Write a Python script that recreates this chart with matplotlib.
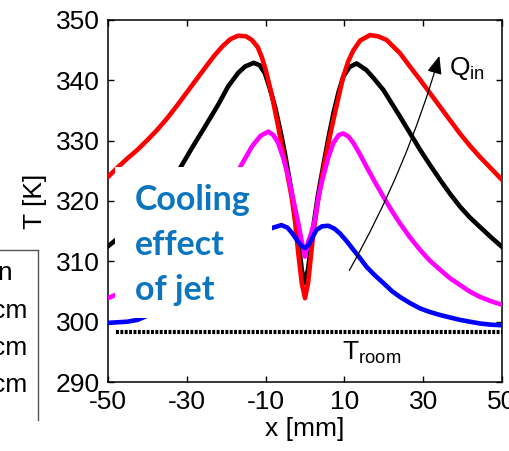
import matplotlib
matplotlib.use("Agg")
import matplotlib.pyplot as plt
from matplotlib.patches import Rectangle

plt.rcParams["font.family"] = ["Liberation Sans", "DejaVu Sans"]
plt.rcParams["mathtext.fontset"] = "custom"
plt.rcParams["mathtext.rm"] = "Liberation Sans"
plt.rcParams["axes.unicode_minus"] = False

# temperature profiles along x (mm) -> T (K)
x_red = [-50, -47.5, -45, -42.5, -40, -37.5, -35, -32.5, -30, -27.5, -25, -23, -21, -19, -17,
         -15, -13.5, -12, -11, -10, -8.5, -7, -6, -4.5, -3.4, -2.5, -1.7, -0.8, 0, 0.8, 2.1,
         3.3, 4.6, 6, 7.2, 8.5, 9.7, 11, 12.3, 14, 16.5, 18.5, 20.7, 24.1, 26.5, 29.2, 31.7,
         34.3, 36.8, 39.3, 41.8, 44.4, 47.2, 50]
t_red = [324.0, 325.6, 327.1, 328.5, 330.1, 331.8, 333.7, 335.8, 338.0, 340.2, 342.4, 344.1,
         345.6, 346.8, 347.4, 347.3, 346.7, 345.5, 343.9, 341.8, 337.8, 333.0, 329.6, 324.5,
         320.7, 316.5, 311.3, 306.3, 303.9, 306.5, 314.6, 320.0, 325.1, 329.8, 333.4, 337.2,
         340.6, 343.2, 345.0, 346.6, 347.5, 347.3, 346.7, 344.5, 342.4, 340.1, 337.9, 335.6,
         333.4, 331.2, 329.2, 327.3, 325.4, 323.5]

x_black = [-50, -47.5, -45, -42.5, -40, -37.5, -35, -32, -28.5, -25.4, -22, -19.5, -17, -15.2,
           -13, -11.5, -10.2, -9, -7.6, -6.3, -5.1, -3.8, -2.5, -1.6, -0.8, 0, 0.8, 2.1, 3.3,
           4.6, 5.9, 7.2, 8.5, 9.7, 11.3, 13.1, 15.6, 17.5, 19.9, 21.9, 24.1, 26.6, 29.2, 31.7,
           34.3, 36.8, 39.3, 41.8, 44.4, 47.2, 50]
t_black = [312.5, 313.8, 315.3, 317.1, 319.0, 320.9, 322.8, 325.1, 329.0, 332.3, 336.0, 339.0,
           341.2, 342.3, 342.9, 342.5, 341.2, 338.8, 335.6, 331.8, 327.9, 323.0, 318.0, 313.0,
           308.5, 306.4, 308.8, 315.7, 321.0, 325.7, 330.3, 334.5, 338.0, 340.6, 342.2, 342.8,
           341.7, 340.3, 338.4, 336.3, 334.0, 331.3, 328.5, 326.0, 323.5, 321.2, 319.1, 317.3,
           315.7, 314.0, 312.4]

x_mag = [-50, -47.5, -45, -42.5, -40, -37.5, -35, -32.5, -30, -27.5, -25, -22.5, -20, -18.5,
         -16.9, -13.5, -11.3, -9.3, -8, -6.8, -5.5, -4.2, -3, -1.7, -0.8, 0, 0.8, 1.5, 2.5, 3.5,
         4.6, 5.9, 7.2, 8.5, 9.7, 11, 12.3, 13.9, 15.6, 17.7, 19.9, 22, 24.1, 26.6, 29.2, 31.7,
         34.3, 36.8, 39.3, 41.8, 44.4, 47.2, 50]
t_mag = [303.9, 304.6, 305.5, 306.5, 307.8, 309.3, 311.0, 312.8, 314.8, 316.8, 318.8, 320.8,
         322.8, 324.0, 325.1, 329.0, 330.8, 331.5, 330.9, 329.6, 327.1, 324.0, 320.3, 316.3,
         313.2, 310.8, 313.2, 314.5, 316.9, 321.0, 324.0, 327.2, 329.6, 330.9, 331.2, 330.7,
         329.6, 327.8, 325.7, 323.2, 320.7, 318.4, 316.3, 314.0, 311.9, 310.1, 308.6, 307.2,
         306.1, 305.0, 304.1, 303.4, 302.8]

x_blue = [-50, -45, -42.5, -40, -35, -30, -25, -20, -16, -12, -8.5, -6, -4.5, -3.4, -2, -1, 0,
          1, 2, 2.9, 4.3, 5.9, 7.5, 8.9, 10.5, 12.3, 14, 15.6, 17.7, 19.9, 22, 24.1, 26.6, 29.2,
          31.7, 34.3, 36.8, 39.3, 41.8, 44.4, 47.2, 50]
t_blue = [299.8, 300.0, 300.3, 301.0, 302.0, 303.4, 305.4, 308.3, 310.9, 313.6, 315.5, 316.0,
          315.6, 314.8, 313.5, 312.6, 312.2, 312.8, 314.1, 315.2, 315.8, 315.9, 315.4, 314.6,
          313.4, 311.9, 310.5, 309.1, 307.7, 306.4, 305.1, 304.1, 303.1, 302.2, 301.6, 301.1,
          300.7, 300.3, 300.0, 299.7, 299.5, 299.4]

t_room = 298.3
x_ticks = [-50, -30, -10, 10, 30, 50]
y_ticks = [290, 300, 310, 320, 330, 340, 350]
legend_lines = ["Separation", "2 cm", "4 cm", "6 cm"]

fig = plt.figure(figsize=(5.1, 4.51), dpi=100)
ax = fig.add_axes([108 / 510, 69 / 451, 394 / 510, 362 / 451])

lw = 3.3
ax.plot(x_black, t_black, color="black", lw=lw, zorder=2)
ax.plot(x_red, t_red, color="#ff0000", lw=lw, zorder=3)
ax.plot(x_mag, t_mag, color="#ff00ff", lw=lw, zorder=4)
ax.plot(x_blue, t_blue, color="#0000ff", lw=lw, zorder=5)
ax.plot([-48, 50], [t_room, t_room], color="black", lw=3.0, ls=(0, (0.7, 0.35)), zorder=5)

# white label box hiding the curves on the left
ax.add_patch(Rectangle((-48.3, 300.6), 39.9, 25.0, facecolor="white", edgecolor="none", zorder=6))
blue_txt = "#0b76bf"
for i, s in enumerate(["Cooling", "effect", "of jet"]):
    ax.text(-43.1, 320.2 - 7.5 * i, s, color=blue_txt, fontsize=24.5, fontweight="bold",
            family=["Lato", "DejaVu Sans"], ha="left", va="center", zorder=7)

ax.annotate("", xy=(34.3, 344.5), xytext=(10.9, 308.1),
            arrowprops=dict(arrowstyle="-|>,head_length=1.1,head_width=0.45", color="black",
                            lw=0.9, connectionstyle="arc3,rad=0.06"), zorder=8)
ax.text(36.6, 342.0, r"$\mathregular{Q_{in}}$", fontsize=19, ha="left", va="center")
ax.text(9.4, 294.9, r"$\mathregular{T_{room}}$", fontsize=19, ha="left", va="center")

ax.set_xlim(-50, 50)
ax.set_ylim(290, 350)
ax.set_xticks(x_ticks)
ax.set_yticks(y_ticks)
ax.tick_params(direction="in", length=4, width=1, top=True, right=True, labelsize=19, pad=6)
for sp in ax.spines.values():
    sp.set_linewidth(1.1)
ax.set_xlabel("x [mm]", fontsize=19, labelpad=2)
ax.set_ylabel("T [K]", fontsize=19, labelpad=6)

# legend box cut off at the figure's left edge
fig.add_artist(plt.Line2D([0, 38 / 510], [1 - 250 / 451, 1 - 250 / 451], color="#555555", lw=1,
                          transform=fig.transFigure))
fig.add_artist(plt.Line2D([38 / 510, 38 / 510], [1 - 250 / 451, 1 - 420 / 451], color="#555555",
                          lw=1, transform=fig.transFigure))
ys = [273, 311, 348, 385]
xs = [13, 27, 27, 27]
for s, xp, yp in zip(legend_lines, xs, ys):
    fig.text(xp / 510, 1 - yp / 451, s, fontsize=19, ha="right", va="center")

fig.savefig("out.png", dpi=100)
